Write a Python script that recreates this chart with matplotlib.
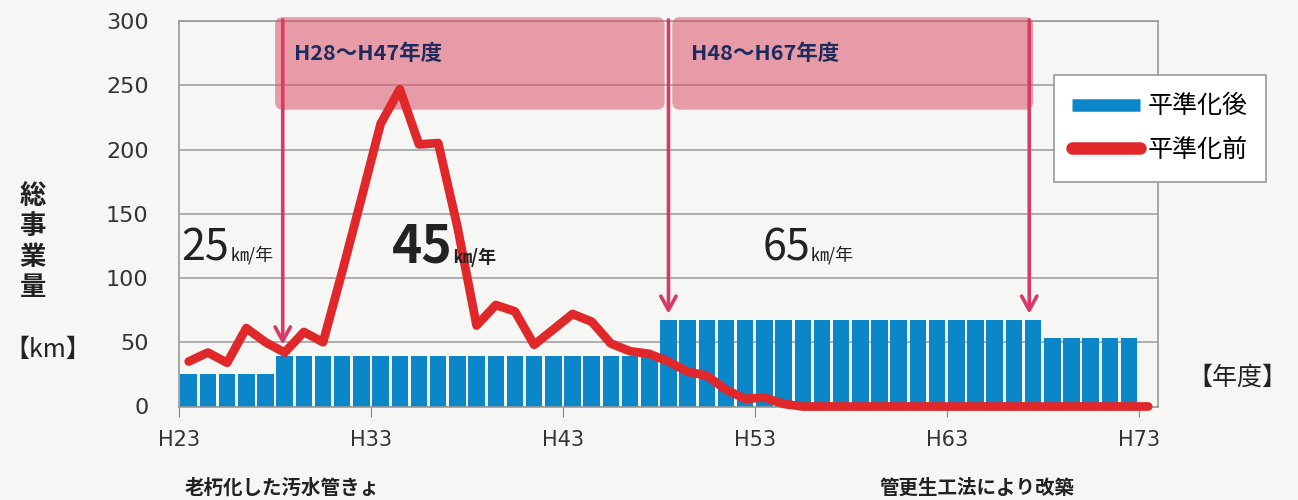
import matplotlib
matplotlib.use("Agg")
import matplotlib.pyplot as plt
from matplotlib.lines import Line2D
from matplotlib.patches import FancyBboxPatch

plt.rcParams['font.family'] = ['Noto Sans CJK JP', 'DejaVu Sans']

# bar data (平準化後), one per year H23..H72
bar_years = list(range(23, 73))
bar_values = [25, 25, 25, 25, 25,
              39, 39, 39, 39, 39, 39, 39, 39, 39, 39,
              39, 39, 39, 39, 39, 39, 39, 39, 39, 39,
              67, 67, 67, 67, 67, 67, 67, 67, 67, 67,
              67, 67, 67, 67, 67, 67, 67, 67, 67, 67,
              53, 53, 53, 53, 53]

# line data (平準化前), H23..H73
line_years = list(range(23, 74))
line_values = [35, 42, 34, 61, 50, 42, 58, 50, 105, 162,
               220, 247, 204, 205, 140, 63, 79, 74, 48, 60,
               72, 66, 49, 43, 41, 35, 27, 24, 13, 6,
               7, 2, 0, 0, 0, 0, 0, 0, 0, 0,
               0, 0, 0, 0, 0, 0, 0, 0, 0, 0, 0]

xtick_years = [23, 33, 43, 53, 63, 73]
xtick_labels = ['H23', 'H33', 'H43', 'H53', 'H63', 'H73']

periods = [(28.0, 48.3, 'H28～H47年度'), (48.7, 67.5, 'H48～H67年度')]
arrow_x = [28.4, 48.5, 67.3]
arrow_tip = [46, 70, 70]

blue = '#0b86c9'
red = '#e0282a'
pink = '#d83a66'

fig = plt.figure(figsize=(12.98, 5.0), dpi=100, facecolor='#f6f6f4')
ax = fig.add_axes([0.138, 0.187, 0.754, 0.771])
ax.set_facecolor('none')

ax.bar([y + 0.5 for y in bar_years], bar_values, width=0.86, color=blue, zorder=2)
ax.plot([y + 0.5 for y in line_years], line_values, color=red, lw=6.3,
        solid_capstyle='round', solid_joinstyle='round', zorder=4, clip_on=False)

ax.set_xlim(23, 74)
ax.set_ylim(0, 300)
ax.set_yticks(range(0, 301, 50))
ax.set_xticks(xtick_years)
ax.set_xticklabels(xtick_labels)
ax.tick_params(axis='y', length=0, pad=22, labelsize=16, labelcolor='#333333')
ax.tick_params(axis='x', length=7, color='#888888', pad=10, labelsize=15, labelcolor='#333333')
for lab in ax.get_xticklabels() + ax.get_yticklabels():
    lab.set_family('DejaVu Sans')
ax.yaxis.grid(True, color='#a0a0a0', lw=1.2, zorder=0)
ax.set_axisbelow(True)
for s in ax.spines.values():
    s.set_color('#999999')
    s.set_linewidth(1.2)

# period boxes
for x0, x1, label in periods:
    box = FancyBboxPatch((x0, 231), x1 - x0, 72,
                         boxstyle='round,pad=0,rounding_size=0.4',
                         mutation_aspect=15, facecolor='#dc5068', alpha=0.55,
                         edgecolor='none', zorder=3, clip_on=False)
    ax.add_patch(box)
    ax.text(x0 + 1.0, 275, label, fontsize=15.5, fontweight='bold', color='#1e2b5e',
            va='center', ha='left', zorder=6)

for x, tip in zip(arrow_x, arrow_tip):
    ax.annotate('', xy=(x, tip), xytext=(x, 303),
                arrowprops=dict(arrowstyle='->,head_length=1.0,head_width=0.55',
                                color=pink, lw=2.6),
                annotation_clip=False, zorder=7)

# rate annotations
ax.text(23.1, 114, '25', fontsize=31, color='#222222', va='baseline', ha='left', zorder=6)
ax.text(25.7, 114, '㎞/年', fontsize=13, color='#222222', va='baseline', ha='left', zorder=6)
ax.text(34.1, 112, '45', fontsize=37, fontweight='bold', color='#222222',
        va='baseline', ha='left', zorder=6)
ax.text(37.3, 112, '㎞/年', fontsize=13, fontweight='bold', color='#222222',
        va='baseline', ha='left', zorder=6)
ax.text(53.4, 114, '65', fontsize=31, color='#222222', va='baseline', ha='left', zorder=6)
ax.text(55.9, 114, '㎞/年', fontsize=13, color='#222222', va='baseline', ha='left', zorder=6)

# axis labels
fig.text(33 / 1298, 1 - 242 / 500, '総\n事\n業\n量', fontsize=19, fontweight='bold',
         ha='center', va='center', linespacing=1.15, color='#222222')
fig.text(48 / 1298, 1 - 350 / 500, '【km】', fontsize=18, ha='center', va='center',
         color='#222222')
fig.text(1237 / 1298, 1 - 378 / 500, '【年度】', fontsize=18, ha='center', va='center',
         color='#222222')
fig.text(185 / 1298, 1 - 488 / 500, '老朽化した汚水管きょ', fontsize=14, fontweight='bold',
         ha='left', va='center', color='#222222')
fig.text(880 / 1298, 1 - 488 / 500, '管更生工法により改築', fontsize=14, fontweight='bold',
         ha='left', va='center', color='#222222')

handles = [Line2D([], [], color=blue, lw=9, solid_capstyle='butt'),
           Line2D([], [], color=red, lw=9, solid_capstyle='round')]
leg = fig.legend(handles, ['平準化後', '平準化前'], loc='upper right',
                 bbox_to_anchor=(0.985, 0.876), fontsize=18, handlelength=2.7,
                 fancybox=False, edgecolor='#999999', framealpha=1,
                 labelspacing=0.7, borderpad=0.75, handletextpad=0.3)
leg.get_frame().set_linewidth(1.2)

fig.savefig('out.png', dpi=100, facecolor=fig.get_facecolor())
